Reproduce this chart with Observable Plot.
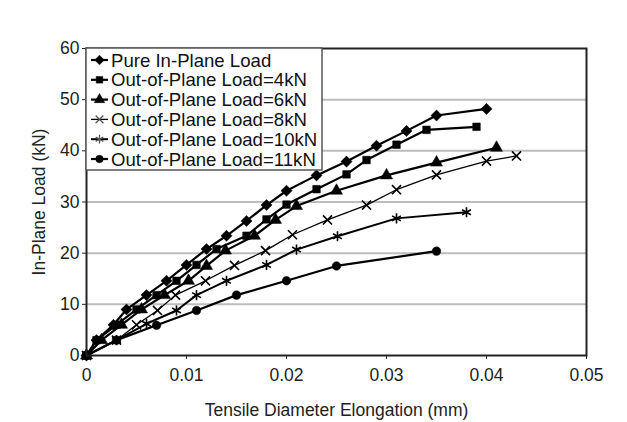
<!DOCTYPE html>
<html>
<head>
<meta charset="utf-8">
<script src="https://cdn.jsdelivr.net/npm/d3@7"></script>
<script src="https://cdn.jsdelivr.net/npm/@observablehq/plot@0.6"></script>
<style>
  html, body { margin: 0; padding: 0; background: #fff; }
  svg { font-family: "Liberation Sans", Arial, sans-serif; }
</style>
</head>
<body>
<div id="chart"></div>
<script>
// ---- data ----
const seriesNames = [
  "Pure In-Plane Load",
  "Out-of-Plane Load=4kN",
  "Out-of-Plane Load=6kN",
  "Out-of-Plane Load=8kN",
  "Out-of-Plane Load=10kN",
  "Out-of-Plane Load=11kN"
];
const pureX = [0, 0.001, 0.0027, 0.004, 0.006, 0.008, 0.010, 0.012, 0.014, 0.016, 0.018, 0.020, 0.023, 0.026, 0.029, 0.032, 0.035, 0.040];
const pureY = [0, 3, 6, 9, 11.8, 14.6, 17.7, 20.8, 23.4, 26.3, 29.4, 32.2, 35.2, 37.9, 41.0, 43.9, 46.9, 48.2];
const kN4X = [0, 0.001, 0.003, 0.005, 0.007, 0.009, 0.011, 0.013, 0.016, 0.018, 0.020, 0.023, 0.026, 0.028, 0.031, 0.034, 0.039];
const kN4Y = [0, 3, 6, 9, 11.8, 14.6, 17.7, 20.8, 23.4, 26.6, 29.5, 32.5, 35.4, 38.2, 41.2, 44.1, 44.7];
const kN6X = [0, 0.0015, 0.0035, 0.0055, 0.0078, 0.0102, 0.012, 0.0139, 0.0168, 0.0189, 0.021, 0.025, 0.030, 0.035, 0.041];
const kN6Y = [0, 3, 6, 9, 11.8, 14.6, 17.5, 20.5, 23.4, 26.5, 29.2, 32.2, 35.2, 37.7, 40.6];
const kN8X = [0, 0.003, 0.005, 0.0071, 0.0089, 0.0119, 0.0148, 0.0179, 0.0206, 0.0241, 0.028, 0.031, 0.035, 0.040, 0.043];
const kN8Y = [0, 3, 6, 8.8, 11.8, 14.6, 17.6, 20.5, 23.6, 26.5, 29.4, 32.4, 35.3, 38.0, 39.0];
const kN10X = [0, 0.003, 0.006, 0.009, 0.011, 0.014, 0.018, 0.021, 0.0251, 0.031, 0.038];
const kN10Y = [0, 3, 6.2, 8.8, 11.8, 14.6, 17.7, 20.7, 23.3, 26.8, 28.0];
const kN11X = [0, 0.003, 0.007, 0.011, 0.015, 0.020, 0.025, 0.035];
const kN11Y = [0, 3, 5.9, 8.8, 11.8, 14.6, 17.5, 20.4];
const xTicks = [0, 0.01, 0.02, 0.03, 0.04, 0.05];
const yTicks = [0, 10, 20, 30, 40, 50, 60];

// ---- styles ----
const symbols = ["diamond2", "square", "triangle", "times", "asterisk", "circle"];
const filled = [true, true, true, false, false, true];
const lineWidths = [2.2, 2.2, 2.2, 1.3, 2, 2.2];
const sizes = [5, 4.3, 4.5, 4.2, 4.8, 4.3];

const xs = [pureX, kN4X, kN6X, kN8X, kN10X, kN11X];
const ys = [pureY, kN4Y, kN6Y, kN8Y, kN10Y, kN11Y];
const rows = [];
xs.forEach((arr, i) => arr.forEach((x, j) => rows.push({s: i, x, y: ys[i][j]})));

const marks = [
  Plot.gridY(yTicks.filter(d => d > 0 && d < 60), {stroke: "#bdbdbd", strokeWidth: 2, strokeOpacity: 1}),
  Plot.axisX({ticks: xTicks, tickSize: 4, tickPadding: 9, fontSize: 17.5,
    tickFormat: d => d === 0 ? "0" : d3.format(".2f")(d),
    label: "Tensile Diameter Elongation (mm)", labelAnchor: "center", labelArrow: "none", labelOffset: 60}),
  Plot.axisY({ticks: yTicks, tickSize: 4, tickPadding: 3, fontSize: 17.5,
    label: "In-Plane Load (kN)", labelAnchor: "center", labelArrow: "none", labelOffset: 54})
];
for (let i = 0; i < 6; i++) {
  const d = rows.filter(r => r.s === i);
  marks.push(Plot.line(d, {x: "x", y: "y", stroke: "#000", strokeWidth: lineWidths[i]}));
  marks.push(Plot.dot(d, {x: "x", y: "y", symbol: () => symbols[i], r: sizes[i],
    fill: filled[i] ? "#000" : "none", stroke: "#000", strokeWidth: filled[i] ? 0.5 : 1.6}));
}
marks.push(Plot.frame({stroke: "#222", strokeWidth: 2}));

const svg = Plot.plot({
  width: 627, height: 422,
  marginLeft: 86, marginRight: 41, marginTop: 48, marginBottom: 67,
  x: {domain: [0, 0.05]},
  y: {domain: [0, 60]},
  style: {fontFamily: "Liberation Sans, Arial, sans-serif", fontSize: "18px", color: "#222", background: "#fff"},
  marks
});
document.getElementById("chart").appendChild(svg);

// ---- legend (inside the plot, top-left) ----
const sel = d3.select(svg);
const lg = sel.append("g").attr("text-anchor", "start");
lg.append("rect").attr("x", 86).attr("y", 48).attr("width", 236).attr("height", 122)
  .attr("fill", "#fff").attr("stroke", "#555").attr("stroke-width", 1.5);
const symMap = {diamond2: d3.symbolDiamond2, square: d3.symbolSquare, triangle: d3.symbolTriangle,
  times: d3.symbolTimes, asterisk: d3.symbolAsterisk, circle: d3.symbolCircle};
seriesNames.forEach((name, i) => {
  const cy = 60 + i * 19.8;
  lg.append("line").attr("x1", 91).attr("x2", 108).attr("y1", cy).attr("y2", cy)
    .attr("stroke", "#000").attr("stroke-width", lineWidths[i]);
  lg.append("path").attr("d", d3.symbol(symMap[symbols[i]], Math.PI * sizes[i] * sizes[i] * 0.75)())
    .attr("transform", `translate(99.5,${cy})`)
    .attr("fill", filled[i] ? "#000" : "none").attr("stroke", filled[i] ? "#000" : "#555")
    .attr("stroke-width", filled[i] ? 0.5 : 1.3);
  lg.append("text").attr("x", 111).attr("y", cy).attr("dy", "0.36em")
    .attr("font-size", 18.6).attr("fill", "#111").text(name);
});
</script>
</body>
</html>
